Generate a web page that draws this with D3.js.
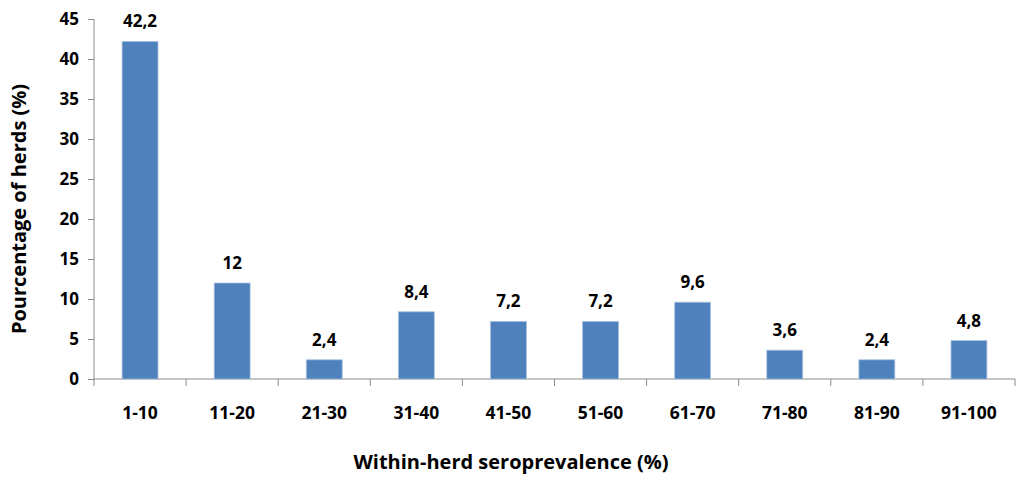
<!DOCTYPE html>
<html><head><meta charset="utf-8">
<script src="https://cdn.jsdelivr.net/npm/d3@7"></script>
<style>body{margin:0;background:#fff}svg{display:block}text{font-family:"Open Sans","Liberation Sans",sans-serif;font-weight:bold;fill:#000}</style>
</head><body><svg id="c" width="1024" height="487"></svg>
<script>
const categories=["1-10","11-20","21-30","31-40","41-50","51-60","61-70","71-80","81-90","91-100"];
const values=[42.2,12,2.4,8.4,7.2,7.2,9.6,3.6,2.4,4.8];
const labels=["42,2","12","2,4","8,4","7,2","7,2","9,6","3,6","2,4","4,8"];
const yTicks=[0,5,10,15,20,25,30,35,40,45];

(function(){
const svg=d3.select("#c");
const pL=94,pR=1015,pT=19,pB=379;
const x=d3.scaleBand().domain(categories).range([pL,pR]).paddingInner(0.61).paddingOuter(0.305);
const xb=d3.scaleBand().domain(categories).range([pL,pR]);
const y=d3.scaleLinear().domain([0,45]).range([pB,pT]);
const axisColor="#8c8c8c";

const ya=svg.append("g").attr("transform",`translate(${pL},0)`).call(d3.axisLeft(y).tickValues(yTicks).tickSize(6).tickPadding(9));
ya.select(".domain").attr("stroke",axisColor).attr("d",`M0,${pT}V${pB}`);
ya.selectAll(".tick line").attr("stroke",axisColor);
ya.selectAll(".tick text").style("font-size","17px").style("font-family",'"Open Sans","Liberation Sans",sans-serif').style("font-weight","bold").attr("fill","#000");

const xg=svg.append("g").attr("transform",`translate(0,${pB})`);
xg.append("line").attr("x1",pL).attr("x2",pR).attr("stroke",axisColor);
const bounds=categories.map(c=>xb(c)).concat([pR]);
xg.selectAll("line.t").data(bounds).join("line").attr("class","t").attr("x1",d=>d).attr("x2",d=>d).attr("y1",0).attr("y2",7).attr("stroke",axisColor);
xg.selectAll("text").data(categories).join("text").attr("x",d=>xb(d)+xb.bandwidth()/2).attr("y",40).attr("text-anchor","middle").style("font-size","17.5px").text(d=>d);

svg.selectAll("rect.bar").data(values).join("rect").attr("class","bar")
 .attr("x",(d,i)=>x(categories[i])).attr("width",x.bandwidth())
 .attr("y",d=>y(d)).attr("height",d=>pB-y(d))
 .attr("fill","#4f81bd").attr("stroke","#a9c1e0").attr("stroke-width",0.8);

svg.selectAll("text.lbl").data(values).join("text").attr("class","lbl")
 .attr("x",(d,i)=>x(categories[i])+x.bandwidth()/2).attr("y",d=>y(d)-14)
 .attr("text-anchor","middle").style("font-size","17px").text((d,i)=>labels[i]);

svg.append("text").attr("transform","translate(26,209) rotate(-90)").attr("text-anchor","middle").style("font-size","20px").text("Pourcentage of herds (%)");
svg.append("text").attr("x",511).attr("y",469).attr("text-anchor","middle").style("font-size","20px").text("Within-herd seroprevalence (%)");
})();
</script></body></html>
